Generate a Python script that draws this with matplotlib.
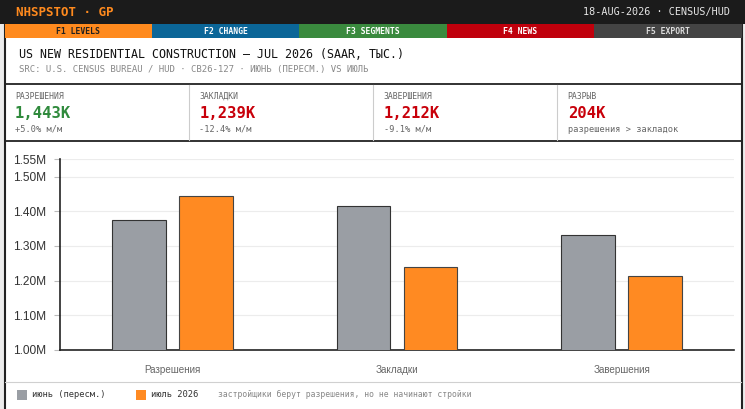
import numpy as np
import matplotlib
matplotlib.use("Agg")
import matplotlib.pyplot as plt
from matplotlib.patches import Rectangle
from matplotlib.ticker import FuncFormatter

# values, thousands of units (SAAR)
categories = ['Разрешения', 'Закладки', 'Завершения']
june_rev = [1374, 1414, 1333]
july = [1443, 1239, 1212]
series_names = ['июнь (пересм.)', 'июль 2026']

kpi_labels = ['РАЗРЕШЕНИЯ', 'ЗАКЛАДКИ', 'ЗАВЕРШЕНИЯ', 'РАЗРЫВ']
kpi_values = ['1,443K', '1,239K', '1,212K', '204K']
kpi_notes = ['+5.0% м/м', '-12.4% м/м', '-9.1% м/м', 'разрешения > закладок']
kpi_colors = ['#2f8a3c', '#c8000a', '#c8000a', '#c8000a']

tabs = ['F1 LEVELS', 'F2 CHANGE', 'F3 SEGMENTS', 'F4 NEWS', 'F5 EXPORT']
tab_colors = ['#ff8a1e', '#0b6698', '#3a8a3e', '#c0000c', '#444444']
tab_text = ['#222222', '#ffffff', '#ffffff', '#ffffff', '#dddddd']

yticks = [1.00, 1.10, 1.20, 1.30, 1.40, 1.50, 1.55]

MONO = 'DejaVu Sans Mono'
SANS = 'Liberation Sans'
W, H = 745, 409

fig = plt.figure(figsize=(W / 100, H / 100), dpi=100)
fig.patch.set_facecolor('#ececec')

# page layer in pixel coordinates (y downwards)
bg = fig.add_axes([0, 0, 1, 1])
bg.set_xlim(0, W)
bg.set_ylim(H, 0)
bg.axis('off')

# white panel with dark frame (bottom edge runs off the picture)
bg.add_patch(Rectangle((4.5, 0), 737, 420, facecolor='white', edgecolor='#222222', lw=1.5,
                       clip_on=True))
# header bar
bg.add_patch(Rectangle((0, 0), W, 23.5, facecolor='#1b1b1b', edgecolor='none'))
bg.text(16.5, 12.3, 'NHSPSTOT · GP', family=MONO, fontsize=9, fontweight='bold',
        color='#ff8a1e', va='center', ha='left')
bg.text(730, 12.3, '18-AUG-2026 · CENSUS/HUD', family=MONO, fontsize=7.3,
        color='#e6e6e6', va='center', ha='right')

# function tabs
x0, x1 = 4.5, 741.5
tw = (x1 - x0) / len(tabs)
for i, name in enumerate(tabs):
    bg.add_patch(Rectangle((x0 + i * tw, 23.5), tw, 14.3, facecolor=tab_colors[i], edgecolor='none'))
    bg.text(x0 + (i + 0.5) * tw, 31, name, family=MONO, fontsize=5.9, fontweight='bold',
            color=tab_text[i], va='center', ha='center')

# title block
bg.text(19, 54, 'US NEW RESIDENTIAL CONSTRUCTION — JUL 2026 (SAAR, ТЫС.)', family=MONO,
        fontsize=8.4, color='#111111', va='center', ha='left')
bg.text(19, 69.5, 'SRC: U.S. CENSUS BUREAU / HUD · CB26-127 · ИЮНЬ (ПЕРЕСМ.) VS ИЮЛЬ',
        family=MONO, fontsize=6.5, color='#888888', va='center', ha='left')

# KPI strip
bg.plot([4.5, 741.5], [84.3, 84.3], color='#222222', lw=1.3)
bg.plot([4.5, 741.5], [140.7, 140.7], color='#222222', lw=1.3)
cw = (x1 - x0) / 4
for i in range(4):
    cx = x0 + i * cw
    if i > 0:
        bg.plot([cx, cx], [85, 140], color='#cccccc', lw=0.8)
    bg.text(cx + 10.5, 96.5, kpi_labels[i], family=MONO, fontsize=5.9, color='#666666',
            va='center', ha='left')
    bg.text(cx + 10.5, 113.3, kpi_values[i], family=MONO, fontsize=11.2, fontweight='bold',
            color=kpi_colors[i], va='center', ha='left')
    bg.text(cx + 10.5, 129.3, kpi_notes[i], family=MONO, fontsize=6.2, color='#666666',
            va='center', ha='left')

# footer legend
bg.plot([5, 741], [382, 382], color='#d0d0d0', lw=0.8)
bg.add_patch(Rectangle((17, 389.5), 10, 10, facecolor='#9a9ea4', edgecolor='none'))
bg.text(32, 394.5, series_names[0], family=MONO, fontsize=6.3, color='#333333', va='center')
bg.add_patch(Rectangle((136, 389.5), 10, 10, facecolor='#ff8a22', edgecolor='none'))
bg.text(151, 394.5, series_names[1], family=MONO, fontsize=6.3, color='#333333', va='center')
bg.text(218, 394.5, 'застройщики берут разрешения, но не начинают стройки', family=MONO,
        fontsize=5.9, color='#888888', va='center')

# chart
ax_l, ax_r, ax_t, ax_b = 60, 734, 159.3, 350
ax = fig.add_axes([ax_l / W, (H - ax_b) / H, (ax_r - ax_l) / W, (ax_b - ax_t) / H])
ax.set_facecolor('none')
x = np.arange(len(categories))
bw = 0.24
off = 0.149
ax.bar(x - off, np.array(june_rev) * 1000, bw, color='#9a9ea4', edgecolor='#333333', lw=0.8, zorder=3)
ax.bar(x + off, np.array(july) * 1000, bw, color='#ff8a22', edgecolor='#444444', lw=0.8, zorder=3)

ax.set_xlim(-0.5, len(categories) - 0.5)
ax.set_ylim(1.0e6, 1.55e6)
ax.set_yticks([t * 1e6 for t in yticks])
ax.yaxis.set_major_formatter(FuncFormatter(lambda v, p: f'{v / 1e6:.2f}M'))
ax.set_xticks(x)
ax.set_xticklabels(categories)
ax.grid(axis='y', color='#ececec', lw=0.8, zorder=0)
for s in ['top', 'right']:
    ax.spines[s].set_visible(False)
for s in ['left', 'bottom']:
    ax.spines[s].set_color('#222222')
    ax.spines[s].set_linewidth(1.2)
ax.tick_params(axis='y', length=4, color='#bbbbbb', labelsize=8.6, labelcolor='#333333', pad=6)
ax.tick_params(axis='x', length=0, labelsize=7.1, labelcolor='#666666', pad=11)
for lab in ax.get_yticklabels() + ax.get_xticklabels():
    lab.set_family(SANS)

fig.savefig('out.png', dpi=100, facecolor=fig.get_facecolor())
